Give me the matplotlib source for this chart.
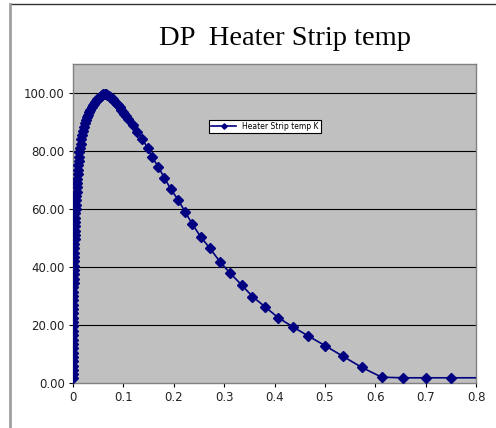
import matplotlib.pyplot as plt
from matplotlib.lines import Line2D
from matplotlib.ticker import FormatStrFormatter, FuncFormatter

# heater strip temperature samples (x, temp K)
x_vals = [
    0.0000, 0.0000, 0.0000, 0.0001, 0.0001, 0.0001, 0.0001, 0.0002, 0.0002, 0.0002,
    0.0003, 0.0003, 0.0003, 0.0004, 0.0004, 0.0005, 0.0005, 0.0006, 0.0006, 0.0007,
    0.0008, 0.0009, 0.0010, 0.0011, 0.0013, 0.0015, 0.0017, 0.0019, 0.0021, 0.0023,
    0.0025, 0.0028, 0.0030, 0.0033, 0.0036, 0.0039, 0.0042, 0.0045, 0.0049, 0.0053,
    0.0057, 0.0061, 0.0065, 0.0070, 0.0075, 0.0080, 0.0086, 0.0092, 0.0098, 0.0105,
    0.0112, 0.0120, 0.0128, 0.0139, 0.0150, 0.0163, 0.0180, 0.0200, 0.0220, 0.0240,
    0.0260, 0.0281, 0.0302, 0.0324, 0.0346, 0.0368, 0.0391, 0.0414, 0.0437, 0.0460,
    0.0484, 0.0508, 0.0532, 0.0556, 0.0580, 0.0604, 0.0630, 0.0655, 0.0680, 0.0706,
    0.0732, 0.0758, 0.0785, 0.0812, 0.0840, 0.0868, 0.0897, 0.0927, 0.0957, 0.0988,
    0.1020, 0.1055, 0.1100, 0.1195, 0.1280, 0.1375, 0.1480, 0.1575, 0.1690, 0.1812,
    0.1939, 0.2089, 0.2223, 0.2368, 0.2535, 0.2720, 0.2918, 0.3117, 0.3349, 0.3563,
    0.3811, 0.4075, 0.4361, 0.4671, 0.5002, 0.5350, 0.5731, 0.6128, 0.6545, 0.7002,
    0.7498, 0.8150,
]
temp_k = [
    1.8, 3.0, 4.5, 6.0, 7.5, 9.0, 10.5, 12.0, 13.5, 15.0,
    16.5, 18.0, 19.5, 21.0, 22.5, 24.0, 25.5, 27.0, 28.5, 30.0,
    31.5, 33.0, 34.5, 36.0, 37.5, 39.0, 40.5, 42.0, 43.5, 45.0,
    46.5, 48.0, 49.5, 51.0, 52.5, 54.0, 55.5, 57.0, 58.5, 60.0,
    61.5, 63.0, 64.5, 66.0, 67.5, 69.0, 70.5, 72.0, 73.5, 75.0,
    76.5, 78.0, 79.5, 81.0, 82.5, 84.0, 85.5, 87.0, 88.3, 89.5,
    90.6, 91.6, 92.5, 93.4, 94.2, 95.0, 95.7, 96.3, 96.9, 97.4,
    97.9, 98.3, 98.7, 99.0, 99.2, 99.5, 99.6, 99.5, 99.3, 99.0,
    98.7, 98.3, 97.9, 97.4, 96.9, 96.3, 95.7, 95.0, 94.2, 93.5,
    92.8, 91.9, 90.9, 88.8, 86.6, 84.2, 81.0, 77.8, 74.6, 70.8,
    66.9, 63.1, 59.1, 54.8, 50.4, 46.4, 41.8, 37.9, 33.8, 29.8,
    26.3, 22.5, 19.4, 16.2, 12.9, 9.3, 5.4, 2.0, 1.8, 1.8,
    1.8, 1.8,
]
x_ticks = [0, 0.1, 0.2, 0.3, 0.4, 0.5, 0.6, 0.7, 0.8]
y_ticks = [0, 20, 40, 60, 80, 100]

fig = plt.figure(figsize=(4.96, 4.28), dpi=100)
ax = fig.add_axes([0.1472, 0.1051, 0.8125, 0.7454])
ax.set_facecolor('#c0c0c0')

for yv in y_ticks[1:]:
    ax.axhline(yv, color='black', lw=0.8, zorder=1)

ax.plot(x_vals, temp_k, color='#000080', lw=1.2, marker='D', markersize=5,
        label='Heater Strip temp K', zorder=3)

ax.set_xlim(0, 0.8)
ax.set_ylim(0, 110)
ax.set_xticks(x_ticks)
ax.set_yticks(y_ticks)
ax.yaxis.set_major_formatter(FormatStrFormatter('%.2f'))
ax.xaxis.set_major_formatter(FuncFormatter(lambda v, p: '0' if v == 0 else f'{v:g}'))
ax.tick_params(labelsize=8.5, length=3, width=0.8, pad=3, colors='black',
               labelcolor='#222222')
for s in ax.spines.values():
    s.set_color('#808080')
    s.set_linewidth(1.0)

leg = ax.legend(loc='center', bbox_to_anchor=(0.476, 0.804), fontsize=5.5,
                frameon=True, fancybox=False, framealpha=1, edgecolor='black',
                borderpad=0.3, handlelength=3.2, markerscale=0.55)
leg.get_frame().set_linewidth(0.8)

fig.text(0.5746, 0.911, 'DP  Heater Strip temp', ha='center', va='center',
         fontsize=20.5, family='Liberation Serif')

# outer frame lines
fig.add_artist(Line2D([0.02, 1.0], [0.991, 0.991], color='#333333', lw=1.0))
fig.add_artist(Line2D([0.02, 0.02], [0.0, 0.991], color='#a0a0a0', lw=2.0))

fig.savefig('out.png', dpi=100)
